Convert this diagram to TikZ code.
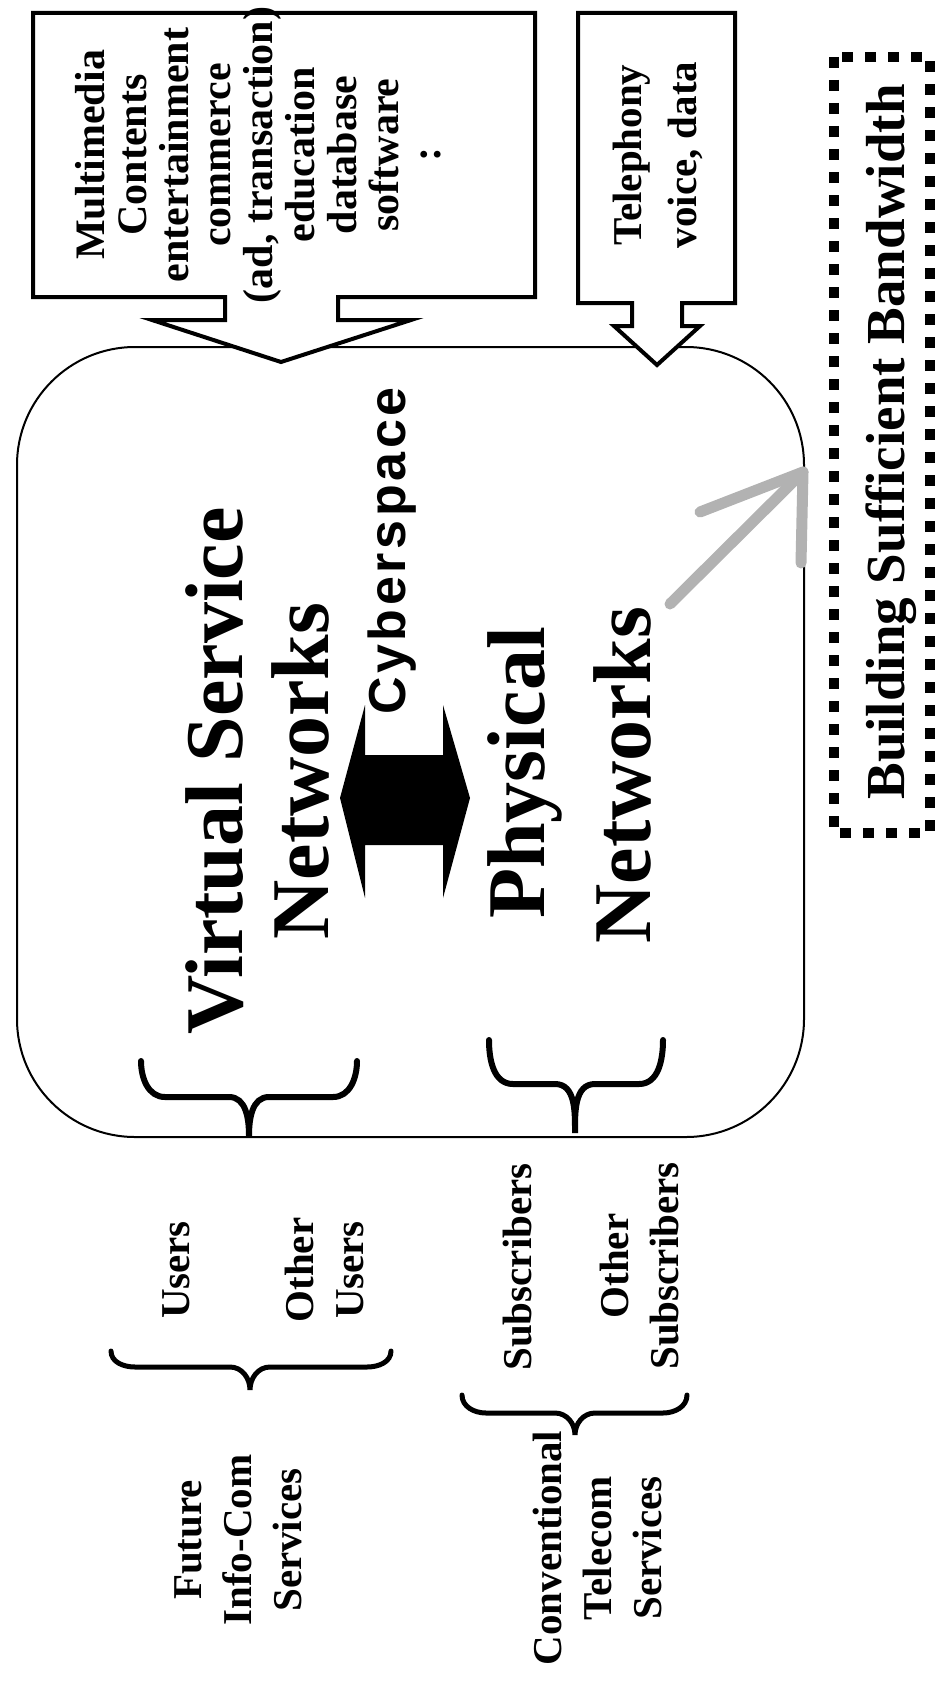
\documentclass[tikz,border=0pt]{standalone}
\usepackage{fontspec}
\setmainfont{Liberation Serif}
\newfontfamily\cyberfont[LetterSpace=7]{Liberation Sans}

\tikzset{
  bigtxt/.style={rotate=90, inner sep=0pt, font=\fontsize{41pt}{43pt}\selectfont\bfseries},
  cybtxt/.style={rotate=90, inner sep=0pt, font=\fontsize{26pt}{28pt}\selectfont\cyberfont\bfseries},
  boxtxt/.style={rotate=90, inner sep=0pt, align=center, font=\fontsize{21pt}{21pt}\selectfont\bfseries},
  teltxt/.style={rotate=90, inner sep=0pt, align=center, font=\fontsize{20.5pt}{27.5pt}\selectfont\bfseries},
  lbltxt/.style={rotate=90, inner sep=0pt, align=center, font=\fontsize{20.5pt}{25pt}\selectfont\bfseries},
  bwtxt/.style={rotate=90, inner sep=0pt, font=\fontsize{27.5pt}{30pt}\selectfont\bfseries},
  blockarrow/.style={draw, fill=white, line width=2pt, line join=miter},
  curlyline/.style={line width=3pt, line cap=round},
  dotbox/.style={line width=5pt, dash pattern=on 5.5pt off 6pt},
  sketch/.style={draw=gray!60, line width=5.5pt, line cap=round, line join=round}
}

% x1, xm, x2, top of arms, middle bar, tip
\newcommand{\curlybr}[7]{%
  \draw[curlyline,#1] (#2,#5) to[out=90,in=180] ({#2+24},#6) -- ({#3-20},#6)
    to[out=0,in=-90] (#3,#7) to[out=-90,in=180] ({#3+20},#6) -- ({#4-24},#6)
    to[out=0,in=90] (#4,#5);}

\begin{document}
\begin{tikzpicture}[x=0.5pt,y=0.5pt,yscale=-1,xscale=1]
\useasboundingbox (0,0) rectangle (938,1686);

%Shape: Rounded Rect
\node[draw, line width=1pt, rounded corners=59pt, minimum width=393.5pt, minimum height=395pt, inner sep=0pt] (cyber) at (410.5,742) {};

%Shape: Right Arrow Callout (contents)
\draw[blockarrow] (33,13) -- (535,13) -- (535,297) -- (338,297) -- (338,320) -- (411,320) -- (281,362) -- (152,320) -- (225,320) -- (225,297) -- (33,297) -- cycle;
%Shape: Right Arrow Callout (telephony)
\draw[blockarrow] (578,13) -- (735,13) -- (735,303) -- (682,303) -- (682,326) -- (700,326) -- (657,365) -- (614,326) -- (632,326) -- (632,303) -- (578,303) -- cycle;

\node[boxtxt] (mm) at (258,155) {Multimedia\\Contents\\entertainment\\commerce\\(ad, transaction)\\education\\database\\software\\:};
\node[teltxt] (tel) at (658,155) {Telephony\\voice, data};

%Shape: Left-Right Arrow
\fill[black] (340,798) -- (365,705) -- (365,755) -- (443,755) -- (443,705) -- (470,798) -- (443,898) -- (443,845) -- (365,845) -- (365,898) -- cycle;

\node[bigtxt] (vs) at (215,771) {Virtual Service};
\node[bigtxt] (vsnet) at (300,771) {Networks};
\node[bigtxt] (phys) at (525,773) {Physical};
\node[bigtxt] (physnet) at (622,775) {Networks};
\node[cybtxt] (cyb) at (392,551) {Cyberspace};

%Curve Lines (braces)
\curlybr{}{141}{249}{357}{1061}{1097}{1136}
\curlybr{}{489}{575}{663}{1040}{1084}{1133}
\curlybr{line width=2.5pt}{111}{250}{391}{1351}{1367}{1390}
\curlybr{line width=2.5pt}{462}{575}{687}{1395}{1413}{1435}

\node[lbltxt] (usr) at (176,1270) {Users};
\node[lbltxt] (ousr) at (324,1270) {Other\\Users};
\node[lbltxt] (sub) at (518,1267) {Subscribers};
\node[lbltxt] (osub) at (640,1266) {Other\\Subscribers};
\node[lbltxt] (fut) at (238,1540) {Future\\Info-Com\\Services};
\node[lbltxt] (conv) at (597,1548) {Conventional\\Telecom\\Services};

%Shape: Dotted Rectangle
\draw[dotbox] (834,57) rectangle (930,833);
\node[bwtxt] (bw) at (891,442) {Building Sufficient Bandwidth};

%Straight Lines (hand-drawn arrow)
\coordinate (bwtail) at (670,604);
\coordinate (bwtip) at (803,472);
\draw[sketch] (bwtail) -- (bwtip);
\draw[sketch] ([shift={(-103,40)}]bwtip) -- (bwtip) -- ([shift={(-2,91)}]bwtip);

\end{tikzpicture}
\end{document}
